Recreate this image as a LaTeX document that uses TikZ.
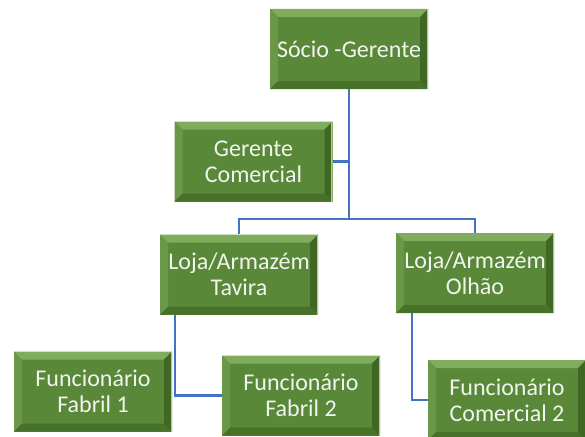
\documentclass[tikz,border=0pt]{standalone}
\usepackage{fontspec}
\setmainfont{Carlito}
\definecolor{boxgreen}{RGB}{88,136,56}
\definecolor{bevtop}{RGB}{128,172,94}
\definecolor{bevleft}{RGB}{106,152,72}
\definecolor{bevbot}{RGB}{72,114,42}
\definecolor{bevright}{RGB}{64,104,36}
\definecolor{edgelight}{RGB}{170,210,130}
\definecolor{txtwhite}{RGB}{242,244,240}
\definecolor{linkblue}{RGB}{68,114,196}
\tikzset{
  bevbox/.style={minimum width=158pt, minimum height=80pt, inner sep=0pt,
    fill=boxgreen, text=txtwhite, align=center,
    font=\fontsize{24}{26}\selectfont,
    path picture={
      \def\bb{path picture bounding box}
      \fill[bevtop] (\bb.north west) -- (\bb.north east) -- ([xshift=-8pt,yshift=-8pt]\bb.north east) -- ([xshift=8pt,yshift=-8pt]\bb.north west) -- cycle;
      \fill[bevleft] (\bb.north west) -- ([xshift=8pt,yshift=-8pt]\bb.north west) -- ([xshift=8pt,yshift=8pt]\bb.south west) -- (\bb.south west) -- cycle;
      \fill[bevbot] (\bb.south west) -- ([xshift=8pt,yshift=8pt]\bb.south west) -- ([xshift=-8pt,yshift=8pt]\bb.south east) -- (\bb.south east) -- cycle;
      \fill[bevright] (\bb.north east) -- ([xshift=-8pt,yshift=-8pt]\bb.north east) -- ([xshift=-8pt,yshift=8pt]\bb.south east) -- (\bb.south east) -- cycle;
      \draw[edgelight, line width=1.5pt] ([xshift=-0.75pt]\bb.north east) -- ([xshift=-0.75pt]\bb.south east);
    }},
  link/.style={draw=linkblue, line width=2.5pt}
}
\begin{document}
\begin{tikzpicture}[x=1pt, y=-1pt]
\useasboundingbox (0,0) rectangle (585,436);
\node[bevbox] (S)  at (349,49)    {Sócio -Gerente};
\node[bevbox] (GC) at (253.5,161.5) {Gerente\\Comercial};
\node[bevbox] (T)  at (239,274.5) {Loja/Armazém\\Tavira};
\node[bevbox] (O)  at (475,273)   {Loja/Armazém\\Olhão};
\node[bevbox] (F1) at (93,391.5)  {Funcionário\\Fabril 1};
\node[bevbox] (F2) at (301,395.5) {Funcionário\\Fabril 2};
\node[bevbox] (C2) at (507,400)   {Funcionário\\Comercial 2};
\coordinate (bus) at (349,219);
\draw[link] (S.south) -- (bus);
\draw[link] (GC.east) -- (GC.east -| bus);
\draw[link] (T.north) |- (bus) -| (O.north);
\draw[link] ([xshift=-64pt]T.south) |- (F2.west);
\draw[link] ([xshift=-63pt]O.south) |- (C2.west);
\end{tikzpicture}
\end{document}
